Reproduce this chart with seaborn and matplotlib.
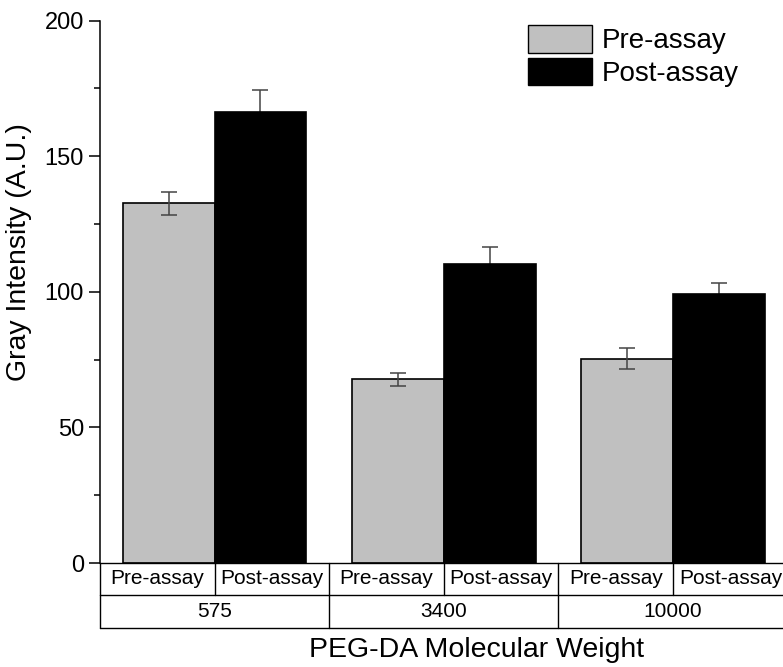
import matplotlib
matplotlib.use("Agg")
import matplotlib.pyplot as plt
import matplotlib.transforms as mtransforms
from matplotlib.ticker import MultipleLocator
import seaborn as sns
import pandas as pd

# ---- data ----
groups = ["575", "3400", "10000"]
conditions = ["Pre-assay", "Post-assay"]
pre_mean = [132.7, 67.7, 75.3]
pre_err = [4.2, 2.3, 3.9]
post_mean = [166.4, 110.3, 99.1]
post_err = [7.9, 6.3, 4.3]
colors = ["#c0c0c0", "#000000"]
yticks = [0, 50, 100, 150, 200]

df = pd.DataFrame({
    "mw": groups * 2,
    "cond": [conditions[0]] * 3 + [conditions[1]] * 3,
    "value": pre_mean + post_mean,
})
errs = {conditions[0]: pre_err, conditions[1]: post_err}

sns.set_style("ticks")
plt.rcParams["font.family"] = ["Liberation Sans", "DejaVu Sans"]
plt.rcParams["text.color"] = "black"
plt.rcParams["axes.labelcolor"] = "black"

fig = plt.figure(figsize=(7.83, 6.67), dpi=100)
W, H = 783, 667
ax = fig.add_axes([100 / W, (H - 563) / H, 687.75 / W, 542.3 / H])

sns.barplot(data=df, x="mw", y="value", hue="cond", order=groups,
            hue_order=conditions, palette=colors, edgecolor="black",
            linewidth=1.2, width=0.8, errorbar=None, ax=ax, zorder=2)

for cont, cond in zip(ax.containers, conditions):
    xs = [p.get_x() + p.get_width() / 2 for p in cont]
    ys = [p.get_height() for p in cont]
    z = 3 if cond == conditions[0] else 1
    ax.errorbar(xs, ys, yerr=errs[cond], fmt="none", ecolor="#444444",
                elinewidth=1.1, capsize=6, capthick=1.1, zorder=z)

ax.set_xlim(-0.5, 2.5)
ax.set_ylim(0, 200)
ax.set_yticks(yticks)
ax.yaxis.set_minor_locator(MultipleLocator(25))
ax.tick_params(axis="y", which="major", length=8, width=1.1, labelsize=17, pad=3.5, direction="out", colors="black")
ax.tick_params(axis="y", which="minor", length=4.5, width=1.1, direction="out", colors="black")
ax.tick_params(axis="x", which="both", bottom=False, labelbottom=False)
for s in ["top", "right"]:
    ax.spines[s].set_visible(False)
ax.spines["left"].set_linewidth(1.1)
ax.spines["bottom"].set_linewidth(1.0)
ax.spines["left"].set_color("black")
ax.spines["bottom"].set_color("black")

# ---- table below axis ----
tr = mtransforms.blended_transform_factory(ax.transData, ax.transAxes)
r1 = -32 / 542.3
r2 = -65 / 542.3
lw = 1.0
ax.plot([-0.5, 2.5], [r1, r1], transform=tr, color="black", lw=lw, clip_on=False)
ax.plot([-0.5, 2.5], [r2, r2], transform=tr, color="black", lw=lw, clip_on=False)
for xb in [-0.5, 0, 0.5, 1, 1.5, 2, 2.5]:
    ax.plot([xb, xb], [0, r1], transform=tr, color="black", lw=lw, clip_on=False)
for xb in [-0.5, 0.5, 1.5, 2.5]:
    ax.plot([xb, xb], [r1, r2], transform=tr, color="black", lw=lw, clip_on=False)
for i, g in enumerate(groups):
    ax.text(i - 0.25, r1 / 2, conditions[0], transform=tr, ha="center", va="center", fontsize=15)
    ax.text(i + 0.25, r1 / 2, conditions[1], transform=tr, ha="center", va="center", fontsize=15)
    ax.text(i, (r1 + r2) / 2, g, transform=tr, ha="center", va="center", fontsize=15)

ax.set_xlabel("PEG-DA Molecular Weight", fontsize=20.5)
ax.xaxis.set_label_coords(0.548, -0.136)
ax.set_ylabel("Gray Intensity (A.U.)", fontsize=20.5)
ax.yaxis.set_label_coords(-0.099, 0.573)

leg = ax.legend(loc="upper left", bbox_to_anchor=(528 / W, 1 - 25 / H),
                bbox_transform=fig.transFigure, frameon=False, fontsize=20,
                handlelength=2.32, handleheight=1.15, labelspacing=0.13,
                handletextpad=0.33, borderpad=0, borderaxespad=0)
for h in leg.legend_handles:
    h.set_edgecolor("black")
    h.set_linewidth(1.0)

fig.savefig("out.png", dpi=100)
